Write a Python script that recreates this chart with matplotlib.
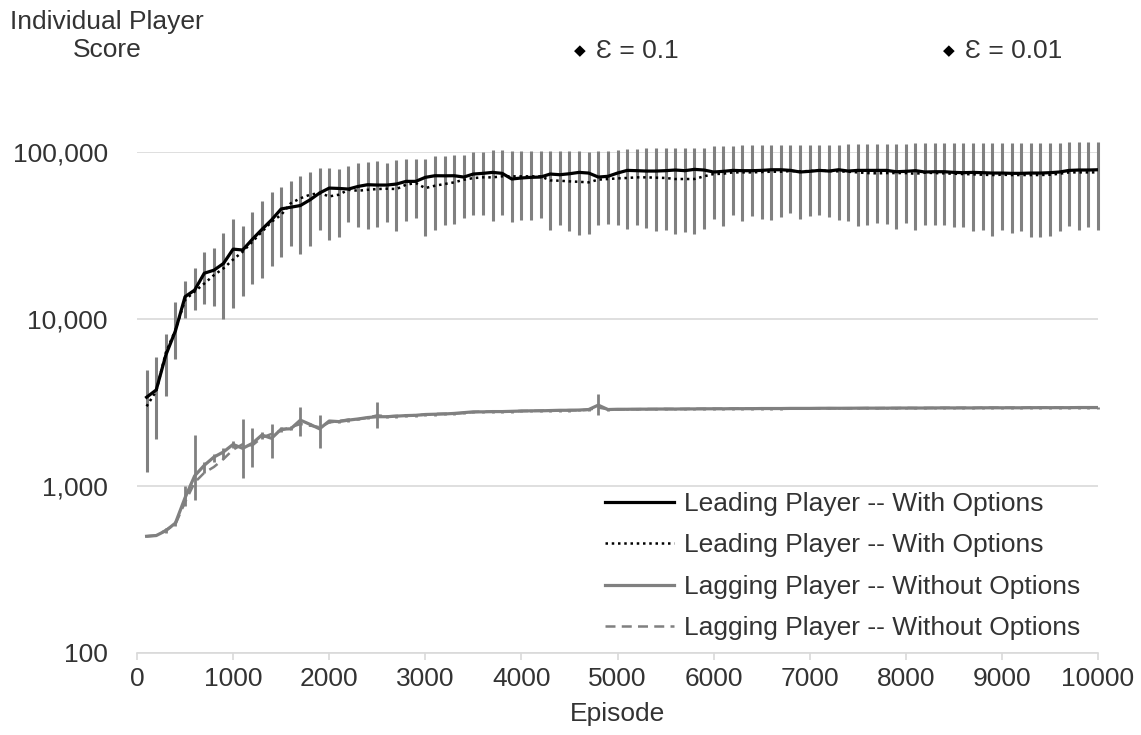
import matplotlib
matplotlib.use("Agg")
import matplotlib.pyplot as plt
import numpy as np

plt.rcParams['font.family'] = ['Liberation Sans', 'DejaVu Sans']

# Episodes (x-axis)
episodes = list(range(100, 10001, 100))

# Leading player, with options (solid black)
lead_solid = [3400, 3760, 6080, 8500, 13600, 14900, 18800, 19600, 21500, 26200,
              25900, 30000, 34400, 39200, 45600, 46700, 47800, 51700, 56800, 60800,
              60500, 60000, 62200, 63700, 63400, 63400, 64300, 66700, 66700, 70500,
              72100, 72000, 72100, 70800, 73800, 74500, 75500, 74500, 68900, 69900,
              70500, 70800, 73800, 73100, 74100, 75500, 74800, 70800, 71500, 74800,
              77600, 77300, 76900, 76900, 77300, 78000, 77300, 78700, 78000, 75900,
              76600, 77600, 77300, 77300, 77600, 78300, 78300, 77600, 75900, 76600,
              77600, 76900, 78300, 76900, 77600, 77600, 77600, 77600, 76200, 76600,
              77300, 75900, 76200, 76200, 75500, 75200, 75500, 75200, 74800, 74800,
              74500, 74500, 74800, 74800, 75200, 75900, 77600, 78000, 78000, 78300]

# Leading player, with options (dotted black)
lead_dotted = [3000, 3700, 6300, 8600, 13000, 14600, 16300, 18300, 20100, 22700,
               25300, 29000, 33300, 38200, 42000, 49300, 52800, 55500, 56800, 54200,
               55500, 59400, 58600, 59400, 60000, 60300, 60000, 63700, 65200, 60800,
               62800, 64300, 65800, 68200, 69800, 70500, 70500, 71500, 71500, 71500,
               71500, 71500, 67600, 67300, 66700, 66300, 65800, 68300, 68900, 69500,
               69900, 70500, 70500, 70200, 69900, 68900, 68900, 68900, 71500, 73800,
               74100, 75500, 75500, 75500, 75900, 76200, 76200, 76900, 76600, 76900,
               77600, 76900, 76600, 76200, 75500, 74800, 74500, 74800, 74800, 74800,
               74100, 75200, 74800, 74500, 74100, 73800, 73500, 73100, 72800, 73100,
               72800, 72800, 72800, 72800, 73100, 74100, 75500, 75500, 75500, 75500]

# Error bar range of the leading player
lead_high = [4950, 5910, 8130, 12600, 16900, 20100, 25100, 26800, 32700, 39700,
             36200, 43800, 50900, 57900, 61700, 66700, 71400, 76300, 79800, 80200,
             79400, 82000, 85900, 87100, 88700, 85900, 89100, 90800, 91200, 90800,
             95000, 95000, 96300, 96300, 99500, 100400, 102200, 102200, 100900, 100900,
             100900, 100900, 101500, 101500, 100900, 100900, 100500, 100900, 100900, 103200,
             104600, 104600, 105000, 105600, 105600, 105600, 105600, 105600, 106300, 108100,
             109300, 109300, 110100, 110100, 110100, 110100, 110100, 110100, 110100, 110100,
             110700, 110700, 110700, 112100, 112100, 112100, 112100, 112100, 112100, 112100,
             113200, 113200, 113200, 113200, 113200, 113200, 113200, 113200, 113200, 113200,
             113200, 113200, 113200, 113200, 113200, 113200, 115300, 115300, 115300, 115300]
lead_low = [1210, 1910, 3460, 5760, 10200, 11300, 12300, 12000, 10000, 11600,
            13700, 16200, 17600, 20800, 23400, 27300, 24400, 27200, 34300, 29900,
            31000, 37900, 35800, 34700, 35800, 37900, 33800, 38800, 40300, 31300,
            34300, 36700, 37100, 40300, 42200, 42200, 38400, 41800, 37900, 39300,
            39300, 40200, 34200, 36300, 33500, 32000, 32400, 36700, 37200, 36700,
            34700, 36700, 35100, 33800, 34200, 32400, 33200, 32400, 34700, 39900,
            35900, 42100, 38800, 41600, 39700, 39300, 40800, 43100, 39700, 41600,
            42100, 40800, 39300, 38400, 35900, 36700, 37600, 37200, 34700, 37600,
            33900, 36700, 36300, 36700, 35600, 35600, 33500, 34200, 31300, 34200,
            32700, 33500, 30800, 31000, 31300, 33500, 35900, 33900, 35600, 34200]

# Lagging player, without options (solid gray)
lag_solid = [500, 505, 540, 600, 850, 1150, 1330, 1490, 1600, 1775,
             1680, 1800, 2020, 1930, 2190, 2200, 2480, 2340, 2200, 2450,
             2430, 2480, 2520, 2570, 2600, 2600, 2620, 2640, 2650, 2680,
             2690, 2700, 2720, 2750, 2780, 2780, 2790, 2790, 2800, 2810,
             2820, 2820, 2830, 2840, 2840, 2850, 2870, 3050, 2870, 2880,
             2880, 2885, 2885, 2890, 2890, 2890, 2895, 2895, 2900, 2900,
             2900, 2905, 2905, 2905, 2910, 2910, 2910, 2915, 2915, 2915,
             2920, 2920, 2920, 2920, 2925, 2925, 2925, 2925, 2930, 2930,
             2930, 2930, 2935, 2935, 2935, 2935, 2935, 2940, 2940, 2940,
             2940, 2940, 2945, 2945, 2945, 2945, 2945, 2950, 2950, 2950]

# Lagging player, without options (dashed gray)
lag_dashed = [500, 505, 545, 590, 800, 1050, 1200, 1300, 1450, 1650,
              1780, 1750, 1950, 2050, 2150, 2250, 2350, 2300, 2250, 2400,
              2450, 2500, 2510, 2560, 2650, 2610, 2630, 2630, 2660, 2670,
              2700, 2710, 2710, 2740, 2770, 2790, 2780, 2800, 2790, 2820,
              2810, 2830, 2820, 2830, 2850, 2840, 2860, 2950, 2880, 2870,
              2885, 2880, 2890, 2885, 2895, 2890, 2890, 2900, 2895, 2905,
              2900, 2900, 2910, 2905, 2905, 2915, 2910, 2915, 2910, 2920,
              2915, 2925, 2920, 2925, 2920, 2930, 2925, 2930, 2925, 2935,
              2930, 2935, 2930, 2940, 2935, 2940, 2935, 2940, 2945, 2940,
              2945, 2940, 2950, 2945, 2950, 2945, 2950, 2950, 2955, 2950]

# Error bars of the lagging player (plus / minus)
lag_plus = [0, 0, 20, 20, 150, 870, 70, 70, 100, 75,
            830, 410, 80, 430, 60, 80, 490, 60, 460, 50,
            50, 50, 50, 50, 580, 50, 50, 50, 50, 50,
            50, 50, 50, 50, 50, 50, 50, 50, 50, 50,
            50, 50, 50, 50, 50, 50, 50, 490, 40, 40,
            40, 40, 40, 40, 40, 40, 40, 40, 40, 40,
            40, 40, 40, 40, 40, 40, 40, 40, 40, 40,
            40, 40, 40, 40, 40, 40, 40, 40, 40, 40,
            40, 40, 40, 40, 40, 40, 40, 40, 40, 40,
            40, 40, 40, 40, 40, 40, 40, 40, 40, 40]
lag_minus = [0, 0, 15, 20, 90, 330, 130, 90, 150, 75,
             560, 500, 120, 460, 90, 50, 490, 60, 500, 70,
             50, 50, 50, 50, 360, 50, 50, 50, 50, 50,
             50, 50, 50, 50, 50, 50, 50, 50, 50, 50,
             50, 50, 50, 50, 50, 50, 50, 400, 40, 40,
             40, 40, 40, 40, 40, 40, 40, 40, 40, 40,
             40, 40, 40, 40, 40, 40, 40, 40, 40, 40,
             40, 40, 40, 40, 40, 40, 40, 40, 40, 40,
             40, 40, 40, 40, 40, 40, 40, 40, 40, 40,
             40, 40, 40, 40, 40, 40, 40, 40, 40, 40]

y_ticks = [100, 1000, 10000, 100000]
y_tick_labels = ['100', '1,000', '10,000', '100,000']
x_ticks = list(range(0, 10001, 1000))

text_color = '#333333'
gray = '#808080'
light = '#d9d9d9'
fs = 19

fig = plt.figure(figsize=(11.41, 7.35), dpi=100)
W, H = 1141, 735
ax = fig.add_axes([137 / W, 1 - 653 / H, (1098 - 137) / W, (653 - 152) / H])

x = np.array(episodes)
ls_arr = np.array(lead_solid)
lag_arr = np.array(lag_solid)

# error bars
ax.errorbar(x, ls_arr, yerr=[ls_arr - np.array(lead_low), np.array(lead_high) - ls_arr],
            fmt='none', ecolor=gray, elinewidth=2.2, capsize=0, zorder=2, clip_on=False)
ax.errorbar(x, lag_arr, yerr=[lag_minus, lag_plus],
            fmt='none', ecolor=gray, elinewidth=2.0, capsize=0, zorder=2, clip_on=False)

# lines
ax.plot(x, lead_solid, color='black', lw=2.3, label='Leading Player -- With Options', zorder=4)
ax.plot(x, lead_dotted, color='black', lw=1.8, linestyle=(0, (1, 1.5)),
        label='Leading Player -- With Options', zorder=3)
ax.plot(x, lag_solid, color=gray, lw=2.3, label='Lagging Player -- Without Options', zorder=3)
ax.plot(x, lag_dashed, color=gray, lw=1.8, linestyle=(0, (4, 2.5)),
        label='Lagging Player -- Without Options', zorder=3)

ax.set_yscale('log')
ax.set_ylim(100, 100000)
ax.set_xlim(0, 10000)
ax.set_yticks(y_ticks)
ax.set_yticklabels(y_tick_labels)
ax.minorticks_off()
ax.set_xticks(x_ticks)
ax.set_xticklabels([str(t) for t in x_ticks])

for s in ['top', 'right', 'left']:
    ax.spines[s].set_visible(False)
ax.spines['bottom'].set_color(light)
ax.spines['bottom'].set_linewidth(1.2)
ax.tick_params(axis='y', length=0, pad=21, labelsize=fs, labelcolor=text_color)
ax.tick_params(axis='x', length=5, width=1.2, color=light, pad=5, labelsize=fs,
               labelcolor=text_color)
ax.grid(axis='y', color=light, lw=1.2)
ax.set_axisbelow(True)

fig.text(617 / W, 1 - 714 / H, 'Episode', ha='center', va='center', fontsize=fs, color=text_color)

# axis title and marker labels at the top
fig.text(10 / W, 1 - 36 / H, 'Individual Player\nScore', ha='left', va='center',
         multialignment='center', fontsize=fs, color=text_color, linespacing=1.25)
fig.text(580 / W, 1 - 51 / H, '◆', ha='center', va='center', fontsize=11, color='black')
fig.text(596 / W, 1 - 51 / H, 'Ɛ = 0.1', ha='left', va='center', fontsize=fs, color=text_color)
fig.text(949 / W, 1 - 51 / H, '◆', ha='center', va='center', fontsize=11, color='black')
fig.text(965 / W, 1 - 51 / H, 'Ɛ = 0.01', ha='left', va='center', fontsize=fs, color=text_color)

leg = ax.legend(loc='upper left', bbox_to_anchor=(605 / W, 1 - 492 / H),
                bbox_transform=fig.transFigure, frameon=False, fontsize=fs,
                handlelength=2.6, handletextpad=0.4, labelspacing=0.66,
                borderpad=0, borderaxespad=0)
for t in leg.get_texts():
    t.set_color(text_color)

fig.savefig('out.png', dpi=100)
